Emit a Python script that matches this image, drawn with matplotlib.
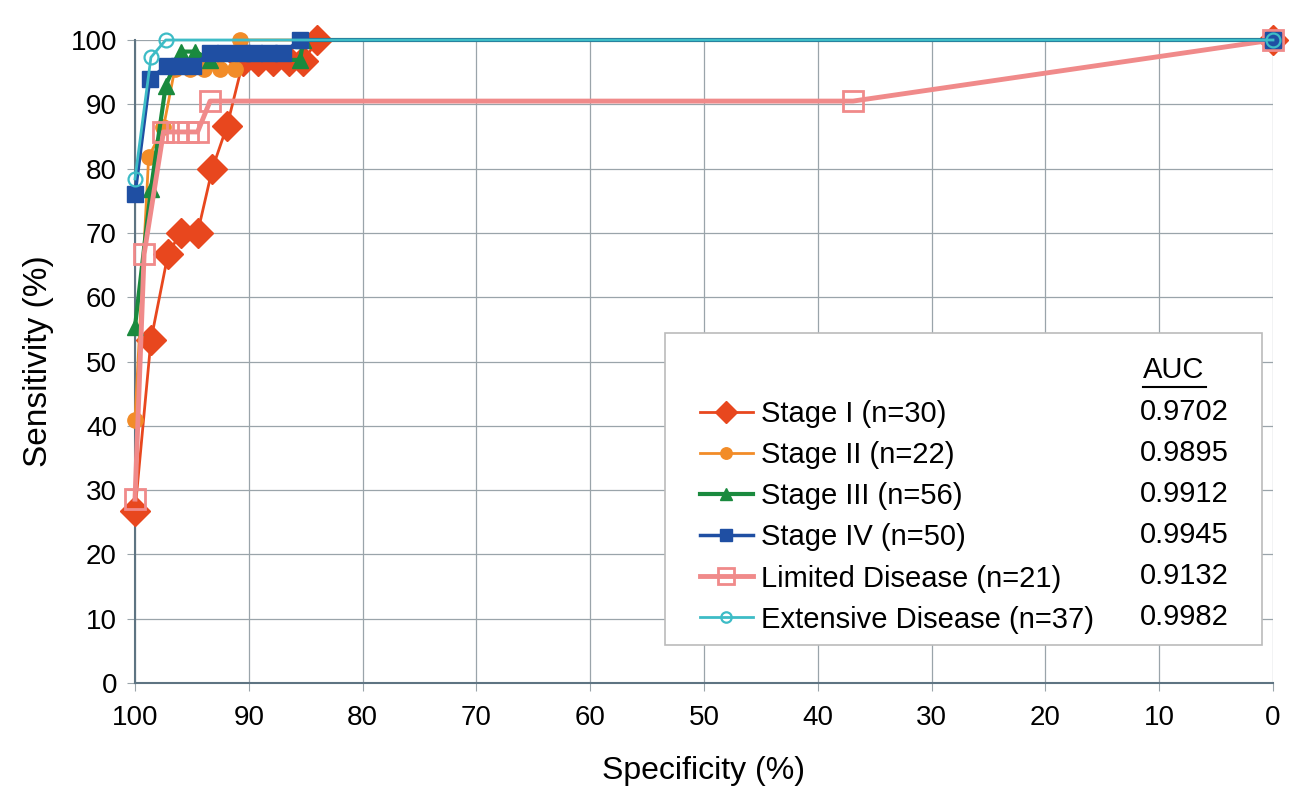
import matplotlib
matplotlib.use("Agg")
import matplotlib.pyplot as plt
from matplotlib.lines import Line2D

plt.rcParams['font.family'] = ['Liberation Sans', 'DejaVu Sans']

# specificity (%) / sensitivity (%)
stage1_spec = [100, 98.6, 97.1, 96.0, 94.5, 93.2, 91.9, 90.5, 89.2, 87.9, 86.5, 85.2, 84.0, 0]
stage1_sens = [26.7, 53.3, 66.7, 70.0, 70.0, 80.0, 86.7, 96.7, 96.7, 96.7, 96.7, 96.7, 100, 100]

stage2_spec = [100, 98.8, 97.5, 96.5, 95.2, 93.9, 92.5, 91.2, 90.8, 0]
stage2_sens = [40.9, 81.8, 86.4, 95.5, 95.5, 95.5, 95.5, 95.5, 100, 100]

stage3_spec = [100, 98.6, 97.3, 96.0, 94.7, 93.4, 85.5, 85.2, 0]
stage3_sens = [55.4, 76.8, 92.9, 98.2, 98.2, 96.9, 96.9, 100, 100]

stage4_spec = [100, 98.7, 97.2, 96.1, 94.9, 93.4, 92.1, 90.6, 89.5, 88.2, 87.0, 85.5, 0]
stage4_sens = [76.0, 94.0, 96.0, 96.0, 96.0, 98.0, 98.0, 98.0, 98.0, 98.0, 98.0, 100, 100]

ld_spec = [100, 99.2, 97.5, 96.3, 95.3, 94.5, 93.4, 36.9, 0]
ld_sens = [28.6, 66.7, 85.7, 85.7, 85.7, 85.7, 90.5, 90.5, 100]

ed_spec = [100, 98.6, 97.3, 0]
ed_sens = [78.4, 97.3, 100, 100]

labels = ["Stage I (n=30)", "Stage II (n=22)", "Stage III (n=56)", "Stage IV (n=50)",
          "Limited Disease (n=21)", "Extensive Disease (n=37)"]
auc = ["0.9702", "0.9895", "0.9912", "0.9945", "0.9132", "0.9982"]

fig = plt.figure(figsize=(12.97, 7.92), dpi=100)
ax = fig.add_axes([135 / 1297, 1 - 683 / 792, 1138 / 1297, 643 / 792])

h1, = ax.plot(stage1_spec, stage1_sens, color='#e8471e', lw=2, marker='D', ms=15, zorder=3, clip_on=False)
h2, = ax.plot(stage2_spec, stage2_sens, color='#f28c28', lw=2, marker='o', ms=11, zorder=4, clip_on=False)
h3, = ax.plot(stage3_spec, stage3_sens, color='#1a8a3e', lw=3, marker='^', ms=12, zorder=5, clip_on=False)
h5, = ax.plot(ld_spec, ld_sens, color='#f08a8a', lw=3.5, marker='s', ms=15, mfc='none', mew=2,
              zorder=5.5, clip_on=False)
h4, = ax.plot(stage4_spec, stage4_sens, color='#1f4fa3', lw=2.5, marker='s', ms=11, zorder=6, clip_on=False)
h6, = ax.plot(ed_spec, ed_sens, color='#3dbcc6', lw=2, marker='o', ms=10, mfc='none', mew=1.6,
              zorder=7, clip_on=False)

ax.set_xlim(100, 0)
ax.set_ylim(0, 100)
ax.set_xticks(range(0, 101, 10))
ax.set_yticks(range(0, 101, 10))
ax.grid(True, color='#9aa4aa', lw=0.9)
ax.set_axisbelow(True)
for s in ['top', 'right']:
    ax.spines[s].set_visible(False)
for s in ['left', 'bottom']:
    ax.spines[s].set_color('#5e7482')
    ax.spines[s].set_linewidth(1.5)
ax.tick_params(length=6, color='#9aa4aa', labelsize=20)
ax.tick_params(axis='x', pad=10)
ax.tick_params(axis='y', pad=7)
ax.set_xlabel("Specificity (%)", fontsize=23, labelpad=18)
ax.set_ylabel("Sensitivity (%)", fontsize=24, labelpad=12)

# legend box
box = plt.Rectangle((0.4657, 0.0591), 0.5246, 0.4852, transform=ax.transAxes,
                    facecolor='white', edgecolor='#bbbbbb', lw=1.2, zorder=10)
ax.add_patch(box)
leg = ax.legend([h1, h2, h3, h4, h5, h6], labels, loc='upper left',
                bbox_to_anchor=(0.4965, 0.440), frameon=False, fontsize=21,
                borderpad=0, borderaxespad=0, labelspacing=0.45,
                handlelength=1.8, handletextpad=0.3, markerscale=0.75)
leg.set_zorder(11)
ys = [(683 - (412 + 41 * i)) / 643 for i in range(6)]
for y, a in zip(ys, auc):
    ax.text(0.883, y, a, transform=ax.transAxes, fontsize=21, va='center', ha='left', zorder=12)
ax.text(0.886, 0.487, "AUC", transform=ax.transAxes, fontsize=21, va='center', ha='left', zorder=12)
ax.add_line(Line2D([0.886, 0.941], [0.460, 0.460], transform=ax.transAxes, color='black', lw=1.5, zorder=12))

fig.savefig("out.png", dpi=100)
